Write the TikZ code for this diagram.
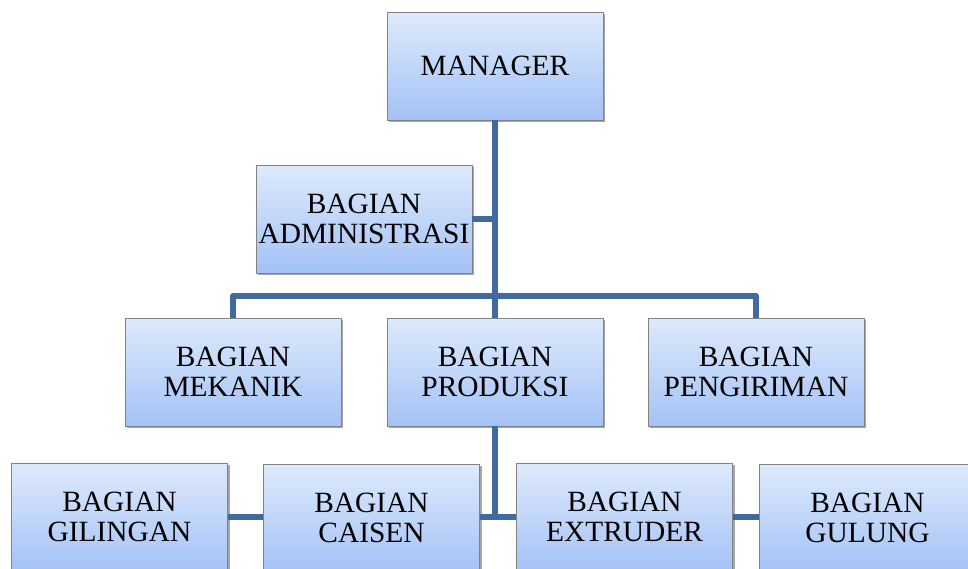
\documentclass[tikz,border=0pt]{standalone}
\usepackage{fontspec}
\setmainfont{Liberation Serif}
\usetikzlibrary{shadows}
\definecolor{linkc}{RGB}{65,106,158}
\definecolor{boxtop}{RGB}{222,234,252}
\definecolor{boxbot}{RGB}{164,194,246}
\definecolor{boxedge}{RGB}{130,130,130}
\tikzset{
  orgbox/.style={draw=boxedge, line width=0.8pt, top color=boxtop, bottom color=boxbot,
    minimum width=216pt, minimum height=108pt, inner sep=0pt, align=center,
    font=\fontsize{29.4}{30.5}\selectfont,
    drop shadow={shadow xshift=2pt, shadow yshift=-2pt, fill=black, opacity=0.35}},
  link/.style={draw=linkc, line width=6pt}
}
\begin{document}
\begin{tikzpicture}[x=1pt,y=1pt]
\useasboundingbox (0,0) rectangle (968,-568);
\clip (0,0) rectangle (968,-568);
\node[orgbox] (man) at (495,-66) {MANAGER};
\node[orgbox] (adm) at (364,-219) {BAGIAN\\ADMINISTRASI};
\node[orgbox] (mek) at (233,-372) {BAGIAN\\MEKANIK};
\node[orgbox] (prod) at (495,-372) {BAGIAN\\PRODUKSI};
\node[orgbox] (peng) at (756,-372) {BAGIAN\\PENGIRIMAN};
\node[orgbox] (gil) at (119.5,-517) {BAGIAN\\GILINGAN};
\node[orgbox] (cai) at (371.5,-518) {BAGIAN\\CAISEN};
\node[orgbox] (ext) at (624.5,-517) {BAGIAN\\EXTRUDER};
\node[orgbox] (gul) at (867.5,-518) {BAGIAN\\GULUNG};
\coordinate (bar) at (495,-296);
\coordinate (low) at (495,-517);
\draw[link] (man.south) -- (prod.north);
\draw[link] (adm.east) -- (adm.east -| man.south);
\draw[link, line join=round] (mek.north) |- (bar) -| (peng.north);
\draw[link] (prod.south) -- (low);
\draw[link] (cai.east |- low) -- (ext.west |- low);
\draw[link] (gil.east) -- (cai.west |- gil.east);
\draw[link] (ext.east) -- (gul.west |- ext.east);
\end{tikzpicture}
\end{document}
